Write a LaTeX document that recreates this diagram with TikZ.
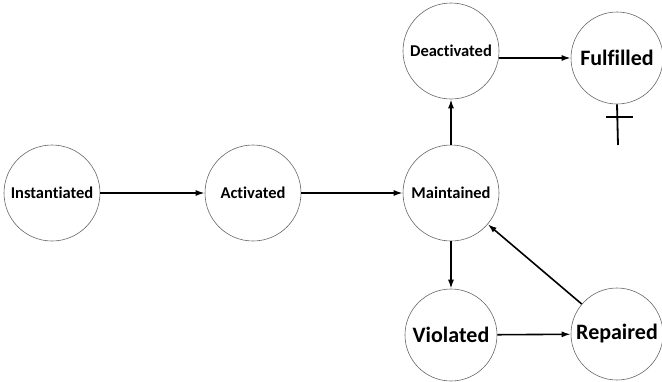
\documentclass[tikz,border=0pt]{standalone}
\usepackage{fontspec}
\setmainfont{Carlito}[Ligatures=NoCommon]
\usetikzlibrary{arrows.meta}
\begin{document}
\begin{tikzpicture}[x=1pt,y=-1pt,
  state/.style={circle,draw=black!60,line width=0.6pt,minimum size=96pt,inner sep=0pt,font=\bfseries\fontsize{16.5}{18}\selectfont},
  bigstate/.style={state,minimum size=92pt,font=\bfseries\fontsize{22}{24}\selectfont},
  arr/.style={line width=1.6pt,-{Latex[length=9pt,width=6pt]}}]
\useasboundingbox (0,0) rectangle (662,381);
\node[state] (inst) at (52,193) {Instantiated};
\node[state] (act) at (253,193) {Activated};
\node[state] (main) at (451,193) {Maintained};
\node[state] (deact) at (451,51) {Deactivated};
\node[bigstate] (fulf) at (617,58) {Fulfilled};
\node[bigstate] (viol) at (451,335) {Violated};
\node[bigstate] (rep) at (617,334) {Repaired};
\coordinate (crossbot) at (618,145);
\coordinate (barl) at (606,117);
\coordinate (barr) at (633,117);
\draw[arr] (inst) -- (act);
\draw[arr] (act) -- (main);
\draw[arr] (main) -- (deact);
\draw[arr] (fulf.west -| deact.east) -- (fulf.west);
\draw[arr] (main) -- (viol);
\draw[arr] (viol) -- (rep);
\draw[arr] (rep) -- (main);
\draw[line width=1.8pt] (fulf.south) -- (crossbot);
\draw[line width=1.8pt] (barl) -- (barr);
\end{tikzpicture}
\end{document}
